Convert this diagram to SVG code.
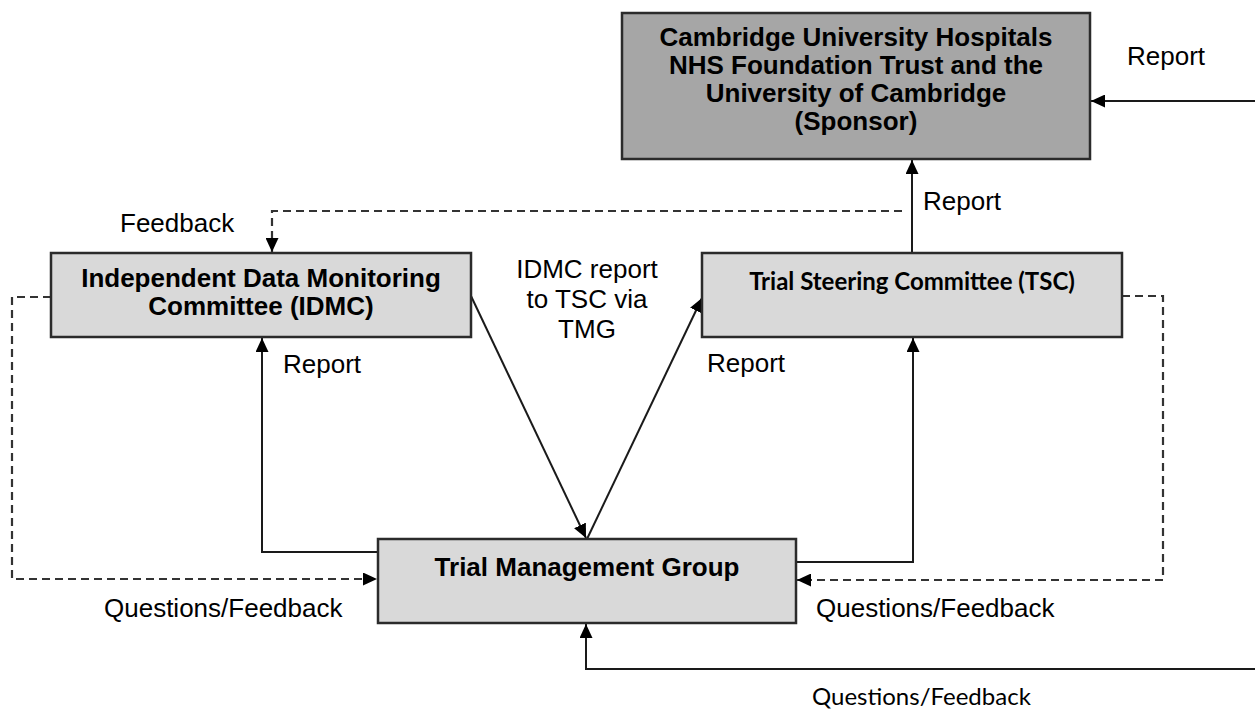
<svg xmlns="http://www.w3.org/2000/svg" width="1255" height="711" viewBox="0 0 1255 711">
<style>
.box{stroke:#2b2b2b;stroke-width:2.5}
.lt{fill:#d9d9d9}
.dk{fill:#a6a6a6}
.bt{font-family:"Liberation Sans",Arial,sans-serif;font-weight:bold;font-size:26px;fill:#000;text-anchor:middle}
.cb{font-family:Lato,"Liberation Sans",sans-serif;font-weight:bold;font-size:24px;fill:#000;text-anchor:middle}
.lb{font-family:"Liberation Sans",Arial,sans-serif;font-size:26px;fill:#000}
.lc{font-family:Lato,"Liberation Sans",sans-serif;font-size:24px;fill:#000}
.ln{fill:none;stroke:#1a1a1a;stroke-width:2}
.ds{fill:none;stroke:#333;stroke-width:2.2;stroke-dasharray:8 5}
</style>
<defs>
<marker id="ah" viewBox="0 0 14 13" refX="14" refY="6.5" markerWidth="14" markerHeight="13" markerUnits="userSpaceOnUse" orient="auto">
<path d="M0,0 L14,6.5 L0,13 Z" fill="#000"/>
</marker>
</defs>
<rect width="1255" height="711" fill="#fff"/>
<g id="connectors">
<path class="ln" d="M1255,101 L1091,101" marker-end="url(#ah)"/>
<path class="ln" d="M912,253 L912,160" marker-end="url(#ah)"/>
<path class="ds" d="M902,211 L272,211 L272,252" marker-end="url(#ah)"/>
<path class="ds" d="M51,297 L12,297 L12,579 L377,579" marker-end="url(#ah)"/>
<path class="ds" d="M1122,296 L1163,296 L1163,580 L797,580" marker-end="url(#ah)"/>
<path class="ln" d="M378,552 L262,552 L262,338" marker-end="url(#ah)"/>
<path class="ln" d="M796,562 L913,562 L913,338" marker-end="url(#ah)"/>
<path class="ln" d="M471,296 L586,538" marker-end="url(#ah)"/>
<path class="ln" d="M587,539 L702,298" marker-end="url(#ah)"/>
<path class="ln" d="M1255,669 L586,669 L586,624" marker-end="url(#ah)"/>
</g>
<g id="sponsor">
<rect class="box dk" x="622" y="13" width="468" height="146"/>
<text class="bt" x="856" y="46">Cambridge University Hospitals</text>
<text class="bt" x="856" y="74">NHS Foundation Trust and the</text>
<text class="bt" x="856" y="102">University of Cambridge</text>
<text class="bt" x="856" y="130">(Sponsor)</text>
</g>
<g id="idmc">
<rect class="box lt" x="51" y="253" width="420" height="84"/>
<text class="bt" x="261" y="287">Independent Data Monitoring</text>
<text class="bt" x="261" y="315">Committee (IDMC)</text>
</g>
<g id="tsc">
<rect class="box lt" x="702" y="253" width="420" height="84"/>
<text class="cb" x="912" y="290">Trial Steering Committee (TSC)</text>
</g>
<g id="tmg">
<rect class="box lt" x="378" y="539" width="418" height="84"/>
<text class="bt" x="587" y="576">Trial Management Group</text>
</g>
<g id="labels">
<text class="lb" x="1127" y="65">Report</text>
<text class="lb" x="923" y="210">Report</text>
<text class="lb" x="120" y="232">Feedback</text>
<text class="lb" x="587" y="278" text-anchor="middle">IDMC report</text>
<text class="lb" x="587" y="308" text-anchor="middle">to TSC via</text>
<text class="lb" x="587" y="338" text-anchor="middle">TMG</text>
<text class="lb" x="283" y="373">Report</text>
<text class="lb" x="707" y="372">Report</text>
<text class="lb" x="104" y="617">Questions/Feedback</text>
<text class="lb" x="816" y="617">Questions/Feedback</text>
<text class="lc" x="812" y="705">Questions/Feedback</text>
</g>
</svg>
